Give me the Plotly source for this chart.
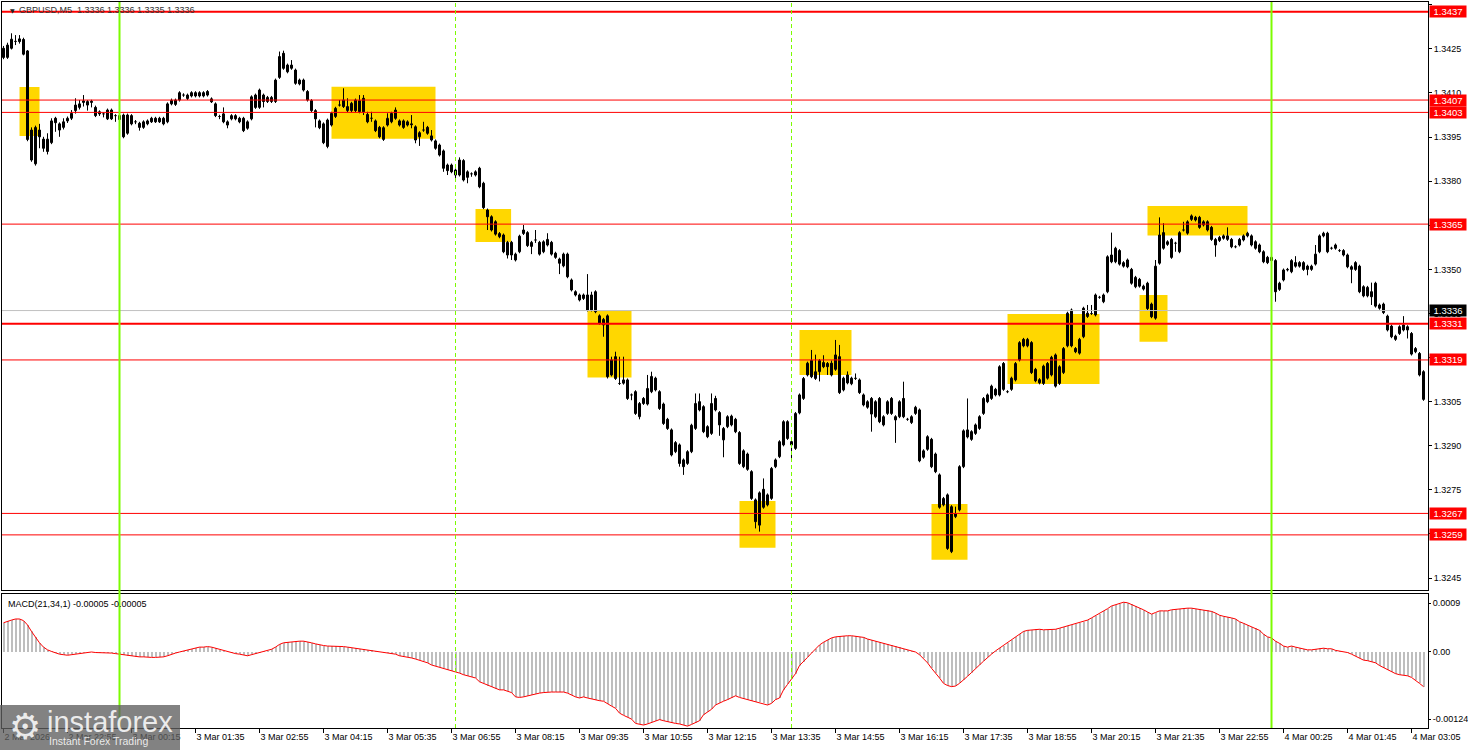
import plotly.graph_objects as go

# ---------------- data ----------------
time_labels = ["2 Mar 2026", "2 Mar 22:55", "3 Mar 00:15", "3 Mar 01:35", "3 Mar 02:55",
               "3 Mar 04:15", "3 Mar 05:35", "3 Mar 06:55", "3 Mar 08:15", "3 Mar 09:35",
               "3 Mar 10:55", "3 Mar 12:15", "3 Mar 13:35", "3 Mar 14:55", "3 Mar 16:15",
               "3 Mar 17:35", "3 Mar 18:55", "3 Mar 20:15", "3 Mar 21:35", "3 Mar 22:55",
               "4 Mar 00:25", "4 Mar 01:45", "4 Mar 03:05"]
time_label_bars = [0, 16, 32, 48, 64, 80, 96, 112, 128, 144, 160, 176, 192, 208, 224,
                   240, 256, 272, 288, 304, 320, 336, 352]

opens = [
1.34252,1.34221,1.34252,1.34275,1.34284,1.34282,1.34243,1.33974,1.33859,1.33974,
1.33943,1.33901,1.33931,1.34014,1.33995,1.33983,1.34005,1.34014,1.34040,1.34051,
1.34073,1.34059,1.34072,1.34051,1.34036,1.34029,1.34012,1.34042,1.34023,1.34023,
1.34025,1.33963,1.34023,1.34002,1.33997,1.33983,1.33995,1.34014,1.34014,1.34014,
1.34014,1.34002,1.34063,1.34061,1.34076,1.34093,1.34081,1.34101,1.34101,1.34101,
1.34101,1.34105,1.34080,1.34063,1.34020,1.34029,1.33991,1.34012,1.34012,1.34014,
1.34014,1.33980,1.34012,1.34093,1.34051,1.34093,1.34071,1.34071,1.34071,1.34153,
1.34235,1.34172,1.34184,1.34178,1.34144,1.34144,1.34105,1.34074,1.34040,1.34005,
1.33995,1.33918,1.33991,1.34020,1.34059,1.34076,1.34040,1.34040,1.34076,1.34036,
1.34082,1.34027,1.34014,1.34005,1.33983,1.33942,1.33991,1.34002,1.34042,1.34005,
1.34005,1.33991,1.33995,1.33985,1.33951,1.33974,1.33983,1.33954,1.33937,1.33923,
1.33903,1.33855,1.33855,1.33821,1.33821,1.33870,1.33813,1.33825,1.33821,1.33844,
1.33793,1.33702,1.33679,1.33662,1.33611,1.33617,1.33549,1.33592,1.33532,1.33560,
1.33622,1.33625,1.33578,1.33600,1.33592,1.33560,1.33583,1.33592,1.33555,1.33535,
1.33512,1.33552,1.33464,1.33424,1.33413,1.33401,1.33413,1.33362,1.33424,1.33342,
1.33311,1.33342,1.33141,1.33203,1.33112,1.33124,1.33124,1.33073,1.33084,1.32999,
1.33061,1.33042,1.33084,1.33130,1.33084,1.33042,1.32990,1.32954,1.32880,1.32903,
1.32852,1.32840,1.32880,1.32959,1.33050,1.33033,1.32965,1.32942,1.33061,1.33013,
1.32920,1.32965,1.32971,1.32990,1.32945,1.32829,1.32872,1.32812,1.32716,1.32630,
1.32752,1.32699,1.32721,1.32829,1.32863,1.32903,1.32982,1.32914,1.32891,1.33012,
1.33061,1.33141,1.33190,1.33129,1.33152,1.33183,1.33180,1.33181,1.33160,1.33203,
1.33090,1.33141,1.33111,1.33129,1.33124,1.33073,1.33031,1.33061,1.32999,1.33061,
1.32971,1.33010,1.33061,1.32999,1.32999,1.33061,1.32990,1.32979,1.33010,1.33022,
1.32861,1.32888,1.32922,1.32872,1.32801,1.32699,1.32733,1.32540,1.32659,1.32682,
1.32829,1.32930,1.32948,1.32942,1.32959,1.33010,1.33073,1.33061,1.33092,1.33073,
1.33180,1.33084,1.33092,1.33124,1.33192,1.33262,1.33240,1.33251,1.33160,1.33114,
1.33112,1.33180,1.33141,1.33209,1.33112,1.33149,1.33240,1.33362,1.33231,1.33215,
1.33271,1.33351,1.33350,1.33345,1.33405,1.33390,1.33424,1.33549,1.33526,1.33564,
1.33511,1.33532,1.33500,1.33441,1.33466,1.33433,1.33453,1.33382,1.33334,1.33521,
1.33625,1.33585,1.33602,1.33589,1.33560,1.33634,1.33623,1.33670,1.33677,1.33677,
1.33651,1.33662,1.33643,1.33583,1.33598,1.33614,1.33602,1.33602,1.33577,1.33583,
1.33614,1.33614,1.33614,1.33594,1.33583,1.33560,1.33541,1.33530,1.33530,1.33432,
1.33464,1.33498,1.33492,1.33523,1.33523,1.33523,1.33511,1.33500,1.33518,1.33560,
1.33614,1.33623,1.33572,1.33583,1.33564,1.33564,1.33549,1.33500,1.33523,1.33511,
1.33441,1.33410,1.33424,1.33453,1.33379,1.33382,1.33341,1.33307,1.33262,1.33282,
1.33311,1.33294,1.33282,1.33220,1.33214,1.33152]

closes = [
1.34221,1.34263,1.34283,1.34276,1.34275,1.34232,1.33942,1.33872,1.33983,1.33951,
1.33912,1.33943,1.34005,1.33999,1.33974,1.34002,1.34014,1.34031,1.34059,1.34063,
1.34068,1.34071,1.34068,1.34023,1.34029,1.34029,1.34042,1.34012,1.34023,1.34010,
1.33951,1.34025,1.33995,1.34002,1.33983,1.34002,1.34005,1.34002,1.34002,1.34002,
1.33995,1.34063,1.34075,1.34076,1.34101,1.34093,1.34093,1.34090,1.34090,1.34090,
1.34090,1.34093,1.34070,1.34023,1.34020,1.34002,1.34002,1.34023,1.34023,1.34002,
1.33972,1.34002,1.34087,1.34051,1.34110,1.34071,1.34085,1.34085,1.34144,1.34224,
1.34184,1.34195,1.34195,1.34133,1.34131,1.34110,1.34076,1.34040,1.34012,1.33982,
1.33931,1.34008,1.34031,1.34048,1.34059,1.34054,1.34054,1.34065,1.34040,1.34074,
1.34036,1.34002,1.34014,1.33972,1.33951,1.33982,1.34014,1.34031,1.34014,1.33991,
1.33983,1.34002,1.33992,1.33940,1.33965,1.33974,1.33963,1.33940,1.33912,1.33889,
1.33844,1.33836,1.33832,1.33838,1.33872,1.33804,1.33832,1.33825,1.33832,1.33781,
1.33710,1.33679,1.33634,1.33620,1.33622,1.33560,1.33592,1.33549,1.33552,1.33613,
1.33634,1.33581,1.33592,1.33600,1.33552,1.33594,1.33602,1.33552,1.33541,1.33521,
1.33552,1.33475,1.33430,1.33413,1.33396,1.33413,1.33362,1.33413,1.33356,1.33317,
1.33330,1.33135,1.33192,1.33129,1.33112,1.33113,1.33061,1.33073,1.33010,1.33044,
1.33044,1.33095,1.33136,1.33090,1.33027,1.32976,1.32959,1.32869,1.32911,1.32840,
1.32829,1.32880,1.32970,1.33044,1.33022,1.32948,1.32931,1.33044,1.33022,1.32971,
1.32959,1.32999,1.33001,1.32948,1.32840,1.32883,1.32820,1.32721,1.32642,1.32740,
1.32691,1.32733,1.32823,1.32852,1.32914,1.32982,1.32925,1.32903,1.33010,1.33073,
1.33129,1.33181,1.33135,1.33152,1.33190,1.33169,1.33169,1.33141,1.33209,1.33081,
1.33130,1.33114,1.33130,1.33130,1.33081,1.33039,1.33050,1.33008,1.33050,1.32982,
1.32999,1.33050,1.33010,1.32988,1.33050,1.32999,1.32990,1.32999,1.33031,1.32849,
1.32883,1.32931,1.32829,1.32812,1.32691,1.32721,1.32551,1.32693,1.32669,1.32829,
1.32951,1.32954,1.32922,1.32971,1.32999,1.33061,1.33050,1.33103,1.33073,1.33169,
1.33092,1.33084,1.33130,1.33180,1.33251,1.33240,1.33262,1.33149,1.33121,1.33125,
1.33171,1.33130,1.33201,1.33103,1.33169,1.33231,1.33351,1.33240,1.33220,1.33262,
1.33368,1.33340,1.33350,1.33413,1.33405,1.33413,1.33543,1.33526,1.33572,1.33518,
1.33523,1.33509,1.33453,1.33473,1.33443,1.33443,1.33367,1.33339,1.33511,1.33617,
1.33572,1.33594,1.33541,1.33589,1.33625,1.33634,1.33662,1.33682,1.33668,1.33643,
1.33662,1.33634,1.33602,1.33602,1.33609,1.33606,1.33614,1.33577,1.33577,1.33602,
1.33600,1.33623,1.33583,1.33572,1.33560,1.33526,1.33523,1.33541,1.33424,1.33453,
1.33498,1.33500,1.33530,1.33511,1.33511,1.33500,1.33500,1.33511,1.33552,1.33614,
1.33623,1.33560,1.33572,1.33572,1.33564,1.33549,1.33509,1.33509,1.33500,1.33424,
1.33410,1.33439,1.33407,1.33375,1.33368,1.33353,1.33294,1.33271,1.33273,1.33305,
1.33294,1.33305,1.33212,1.33231,1.33141,1.33058]

highs = [
1.34260,1.34271,1.34303,1.34297,1.34297,1.34288,1.34246,1.33983,1.33989,1.33995,
1.33951,1.33963,1.34014,1.34019,1.34000,1.34014,1.34020,1.34042,1.34082,1.34076,
1.34093,1.34076,1.34077,1.34057,1.34041,1.34034,1.34047,1.34047,1.34028,1.34029,
1.34030,1.34030,1.34028,1.34008,1.34002,1.34007,1.34010,1.34019,1.34019,1.34019,
1.34019,1.34068,1.34081,1.34081,1.34106,1.34099,1.34098,1.34106,1.34106,1.34106,
1.34106,1.34110,1.34085,1.34068,1.34026,1.34051,1.34007,1.34028,1.34028,1.34019,
1.34019,1.34007,1.34092,1.34098,1.34115,1.34098,1.34090,1.34090,1.34149,1.34241,
1.34244,1.34200,1.34212,1.34183,1.34149,1.34149,1.34110,1.34079,1.34045,1.34010,
1.34000,1.34013,1.34036,1.34053,1.34076,1.34116,1.34082,1.34070,1.34081,1.34093,
1.34093,1.34036,1.34036,1.34010,1.33988,1.33987,1.34031,1.34036,1.34051,1.34010,
1.34010,1.34007,1.34025,1.33990,1.33970,1.34002,1.33988,1.33974,1.33942,1.33928,
1.33908,1.33860,1.33860,1.33843,1.33881,1.33875,1.33837,1.33830,1.33837,1.33849,
1.33798,1.33707,1.33684,1.33667,1.33627,1.33622,1.33597,1.33597,1.33557,1.33618,
1.33651,1.33630,1.33597,1.33634,1.33597,1.33599,1.33623,1.33597,1.33560,1.33540,
1.33557,1.33557,1.33469,1.33429,1.33418,1.33418,1.33484,1.33424,1.33429,1.33347,
1.33335,1.33347,1.33203,1.33220,1.33203,1.33203,1.33129,1.33078,1.33089,1.33049,
1.33066,1.33141,1.33152,1.33135,1.33089,1.33047,1.32995,1.32959,1.32916,1.32908,
1.32857,1.32885,1.32975,1.33078,1.33078,1.33038,1.32970,1.33078,1.33070,1.33018,
1.32964,1.33004,1.33006,1.32995,1.32950,1.32888,1.32877,1.32817,1.32721,1.32745,
1.32789,1.32738,1.32828,1.32857,1.32919,1.32987,1.32987,1.32919,1.33015,1.33078,
1.33134,1.33186,1.33226,1.33210,1.33195,1.33208,1.33185,1.33190,1.33260,1.33243,
1.33135,1.33153,1.33135,1.33146,1.33129,1.33078,1.33055,1.33066,1.33055,1.33066,
1.33004,1.33055,1.33066,1.33004,1.33055,1.33118,1.32995,1.33004,1.33036,1.33027,
1.32888,1.32936,1.32927,1.32877,1.32806,1.32726,1.32738,1.32698,1.32693,1.32834,
1.32956,1.33061,1.32953,1.32976,1.33004,1.33066,1.33078,1.33108,1.33097,1.33174,
1.33185,1.33089,1.33135,1.33185,1.33256,1.33267,1.33267,1.33256,1.33165,1.33130,
1.33176,1.33185,1.33206,1.33214,1.33174,1.33236,1.33356,1.33367,1.33236,1.33267,
1.33373,1.33379,1.33379,1.33418,1.33410,1.33418,1.33548,1.33625,1.33577,1.33569,
1.33528,1.33537,1.33505,1.33478,1.33471,1.33448,1.33458,1.33387,1.33532,1.33677,
1.33657,1.33599,1.33607,1.33594,1.33630,1.33662,1.33667,1.33687,1.33682,1.33682,
1.33667,1.33667,1.33648,1.33607,1.33614,1.33619,1.33643,1.33607,1.33582,1.33607,
1.33619,1.33628,1.33619,1.33599,1.33588,1.33565,1.33546,1.33546,1.33535,1.33458,
1.33503,1.33505,1.33535,1.33545,1.33528,1.33528,1.33516,1.33516,1.33583,1.33619,
1.33628,1.33628,1.33577,1.33588,1.33569,1.33569,1.33554,1.33514,1.33528,1.33516,
1.33446,1.33444,1.33455,1.33458,1.33384,1.33387,1.33346,1.33312,1.33278,1.33310,
1.33341,1.33310,1.33287,1.33236,1.33219,1.33157]

lows = [
1.34215,1.34216,1.34248,1.34263,1.34268,1.34228,1.33936,1.33866,1.33853,1.33912,
1.33900,1.33891,1.33926,1.33968,1.33951,1.33976,1.33998,1.34008,1.34030,1.34044,
1.34054,1.34040,1.34051,1.34018,1.34022,1.34017,1.34008,1.34008,1.34002,1.34003,
1.33946,1.33958,1.33990,1.33994,1.33972,1.33978,1.33990,1.33998,1.33998,1.33998,
1.33990,1.33997,1.34058,1.34056,1.34071,1.34087,1.34076,1.34085,1.34085,1.34085,
1.34085,1.34088,1.34066,1.34018,1.34011,1.33997,1.33980,1.34007,1.34007,1.33997,
1.33967,1.33975,1.34007,1.34046,1.34046,1.34051,1.34066,1.34066,1.34066,1.34148,
1.34179,1.34167,1.34179,1.34128,1.34126,1.34105,1.34071,1.34035,1.33983,1.33977,
1.33926,1.33912,1.33986,1.34015,1.34054,1.34049,1.34035,1.34035,1.34035,1.34031,
1.34025,1.33997,1.34002,1.33967,1.33946,1.33937,1.33986,1.33997,1.34009,1.33986,
1.33978,1.33986,1.33980,1.33929,1.33920,1.33968,1.33958,1.33935,1.33907,1.33884,
1.33832,1.33821,1.33827,1.33810,1.33816,1.33799,1.33793,1.33815,1.33816,1.33776,
1.33705,1.33634,1.33629,1.33615,1.33606,1.33555,1.33537,1.33532,1.33527,1.33555,
1.33617,1.33576,1.33552,1.33590,1.33547,1.33555,1.33578,1.33547,1.33536,1.33484,
1.33507,1.33470,1.33425,1.33408,1.33391,1.33396,1.33357,1.33357,1.33351,1.33312,
1.33271,1.33129,1.33136,1.33124,1.33107,1.33108,1.33056,1.33055,1.33005,1.32990,
1.33039,1.33037,1.33079,1.33085,1.33022,1.32971,1.32954,1.32864,1.32875,1.32829,
1.32801,1.32835,1.32875,1.32954,1.33017,1.32943,1.32926,1.32937,1.33017,1.32934,
1.32861,1.32960,1.32966,1.32943,1.32835,1.32824,1.32815,1.32716,1.32619,1.32608,
1.32686,1.32694,1.32716,1.32824,1.32858,1.32898,1.32920,1.32852,1.32886,1.33007,
1.33056,1.33136,1.33130,1.33124,1.33119,1.33164,1.33141,1.33136,1.33155,1.33076,
1.33085,1.33109,1.33106,1.33124,1.33076,1.33034,1.33026,1.32948,1.32994,1.32977,
1.32966,1.33005,1.33005,1.32910,1.32994,1.32994,1.32985,1.32974,1.33005,1.32844,
1.32856,1.32883,1.32824,1.32807,1.32686,1.32694,1.32546,1.32535,1.32654,1.32677,
1.32824,1.32925,1.32917,1.32937,1.32954,1.33005,1.33045,1.33056,1.33068,1.33068,
1.33087,1.33079,1.33087,1.33119,1.33187,1.33235,1.33235,1.33144,1.33116,1.33109,
1.33107,1.33125,1.33136,1.33098,1.33107,1.33144,1.33235,1.33235,1.33215,1.33210,
1.33266,1.33335,1.33345,1.33340,1.33400,1.33385,1.33419,1.33521,1.33521,1.33513,
1.33506,1.33504,1.33448,1.33436,1.33438,1.33428,1.33362,1.33334,1.33329,1.33516,
1.33567,1.33580,1.33536,1.33560,1.33555,1.33629,1.33618,1.33665,1.33663,1.33638,
1.33646,1.33629,1.33597,1.33543,1.33593,1.33601,1.33597,1.33572,1.33572,1.33578,
1.33595,1.33609,1.33578,1.33567,1.33555,1.33521,1.33518,1.33525,1.33390,1.33427,
1.33459,1.33493,1.33487,1.33506,1.33506,1.33495,1.33480,1.33495,1.33513,1.33555,
1.33609,1.33555,1.33567,1.33567,1.33559,1.33544,1.33504,1.33453,1.33495,1.33419,
1.33405,1.33405,1.33379,1.33370,1.33363,1.33348,1.33289,1.33266,1.33257,1.33277,
1.33289,1.33265,1.33207,1.33215,1.33136,1.33053]

macd = [
0.00054,0.00057,0.00059,0.00061,0.00061,0.00058,0.00050,0.00038,0.00027,0.00017,
0.00009,0.00004,0.00001,-0.00002,-0.00004,-0.00005,-0.00006,-0.00005,-0.00004,-0.00002,
-0.00001,0.0,0.0,-0.00001,-0.00001,-0.00002,-0.00002,-0.00002,-0.00003,-0.00004,
-0.00006,-0.00007,-0.00008,-0.00009,-0.00009,-0.00009,-0.00010,-0.00010,-0.00010,-0.00010,
-0.00009,-0.00007,-0.00004,-0.00002,0.0,0.00002,0.00004,0.00006,0.00008,0.00009,
0.00009,0.00010,0.00009,0.00007,0.00004,0.00002,0.0,-0.00002,-0.00003,-0.00004,
-0.00006,-0.00007,-0.00005,-0.00003,-0.00001,0.00001,0.00002,0.00005,0.00009,0.00014,
0.00017,0.00018,0.00019,0.00020,0.00020,0.00020,0.00019,0.00017,0.00015,0.00013,
0.00012,0.00011,0.00011,0.00011,0.00010,0.00010,0.00009,0.00008,0.00007,0.00006,
0.00005,0.00004,0.00003,0.00001,0.0,-0.00001,-0.00002,-0.00003,-0.00004,-0.00007,
-0.00008,-0.00009,-0.00011,-0.00013,-0.00015,-0.00017,-0.00020,-0.00024,-0.00026,-0.00028,
-0.00030,-0.00033,-0.00035,-0.00037,-0.00039,-0.00042,-0.00044,-0.00046,-0.00048,-0.00055,
-0.00058,-0.00062,-0.00065,-0.00068,-0.00070,-0.00070,-0.00072,-0.00075,-0.00083,-0.00084,
-0.00083,-0.00081,-0.00080,-0.00078,-0.00076,-0.00075,-0.00074,-0.00074,-0.00074,-0.00074,
-0.00074,-0.00076,-0.00080,-0.00083,-0.00085,-0.00083,-0.00085,-0.00087,-0.00089,-0.00090,
-0.00091,-0.00096,-0.00100,-0.00104,-0.00113,-0.00117,-0.00121,-0.00124,-0.00132,-0.00133,
-0.00135,-0.00133,-0.00130,-0.00127,-0.00125,-0.00127,-0.00129,-0.00131,-0.00132,-0.00133,
-0.00135,-0.00137,-0.00134,-0.00131,-0.00127,-0.00116,-0.00111,-0.00106,-0.00098,-0.00094,
-0.00091,-0.00088,-0.00085,-0.00081,-0.00084,-0.00086,-0.00088,-0.00090,-0.00092,-0.00093,
-0.00095,-0.00098,-0.00095,-0.00088,-0.00085,-0.00070,-0.00060,-0.00050,-0.00040,-0.00025,
-0.00018,-0.00010,-0.00002,0.00005,0.00013,0.00018,0.00022,0.00026,0.00028,0.00029,
0.00030,0.00030,0.00030,0.00029,0.00028,0.00027,0.00024,0.00022,0.00020,0.00018,
0.00016,0.00014,0.00013,0.00011,0.00009,0.00006,0.00004,0.00002,0.0,-0.00005,
-0.00012,-0.00020,-0.00030,-0.00038,-0.00048,-0.00058,-0.00062,-0.00064,-0.00063,-0.00058,
-0.00052,-0.00045,-0.00038,-0.00030,-0.00024,-0.00017,-0.00010,-0.00004,0.00002,0.00007,
0.00012,0.00017,0.00022,0.00027,0.00033,0.00038,0.00040,0.00041,0.00042,0.00042,
0.00041,0.00041,0.00041,0.00042,0.00044,0.00046,0.00048,0.00050,0.00052,0.00054,
0.00056,0.00059,0.00063,0.00067,0.00071,0.00076,0.00080,0.00085,0.00087,0.00089,
0.00092,0.00091,0.00088,0.00085,0.00082,0.00078,0.00074,0.00070,0.00073,0.00076,
0.00076,0.00076,0.00078,0.00079,0.00080,0.00081,0.00081,0.00081,0.00080,0.00079,
0.00078,0.00077,0.00075,0.00072,0.00068,0.00066,0.00065,0.00063,0.00061,0.00056,
0.00053,0.00050,0.00047,0.00044,0.00040,0.00033,0.00028,0.00026,0.00020,0.00016,
0.00011,0.00009,0.00011,0.00009,0.00007,0.00005,0.00004,0.00004,0.00005,0.00007,
0.00007,0.00006,0.00006,0.00003,0.00002,0.0,-0.00001,-0.00004,-0.00008,-0.00012,
-0.00015,-0.00016,-0.00018,-0.00020,-0.00025,-0.00029,-0.00033,-0.00037,-0.00040,-0.00042,
-0.00043,-0.00044,-0.00047,-0.00052,-0.00058,-0.00064]

assert len(opens) == len(closes) == len(highs) == len(lows) == len(macd), (
    len(opens), len(closes), len(highs), len(lows), len(macd))

# horizontal levels (value as drawn, tag text)
level_prices = [1.34376, 1.34076, 1.34034, 1.33654, 1.33315, 1.33192, 1.32670, 1.32597]
level_labels = ["1.3437", "1.3407", "1.3403", "1.3365", "1.3331", "1.3319", "1.3267", "1.3259"]
level_thick = [True, False, False, False, True, False, False, False]
bid_price = 1.33360
bid_label = "1.3336"

# yellow zones: bar index span and price span
zone_start = [4, 82, 118, 146, 184, 199, 232, 251, 284, 286]
zone_end = [9, 108, 126.9, 157, 193, 212, 241, 274, 291, 311]
zone_top = [1.34120, 1.34121, 1.33705, 1.33359, 1.32712, 1.33294, 1.32702, 1.33348, 1.33413, 1.33716]
zone_bottom = [1.33954, 1.33944, 1.33593, 1.33132, 1.32553, 1.33141, 1.32512, 1.33110, 1.33254, 1.33615]

day_separator_bars = [29, 317]
session_marker_bars = [113, 197]

price_ticks = [1.3245, 1.3260, 1.3275, 1.3290, 1.3305, 1.3320, 1.3335, 1.3350,
               1.3365, 1.3380, 1.3395, 1.3410, 1.3425, 1.3440]
macd_ticks = [0.0009, 0.0, -0.00124]
macd_tick_text = ["0.0009", "0.00", "-0.00124"]

header_text = "GBPUSD,M5  1.3336 1.3336 1.3335 1.3336"
macd_title = "MACD(21,34,1) -0.00005 -0.00005"

# ---------------- geometry ----------------
W, H = 1468, 750
L_PX, R_PX, T_PX, B_PX = 2, 1428, 2, 728


def px_x(px):
    return (px - L_PX) / (R_PX - L_PX)


def px_y(py):
    return (B_PX - py) / (B_PX - T_PX)


MAIN_BOTTOM_PX = 590
MACD_TOP_PX = 594
PRICE_RANGE = [1.324095, 1.344095]
MACD_RANGE = [-0.001405, 0.001072]
n = len(closes)
xs = list(range(n))
X_RANGE = [-0.375, n + 0.125]

FONT = "Liberation Sans, Arial, sans-serif"

fig = go.Figure()

# candles: wicks (high-low) then bodies (open-close) on top
wick_x, wick_y = [], []
for i, (hi, lo) in enumerate(zip(highs, lows)):
    wick_x += [i, i, None]
    wick_y += [lo, hi, None]
fig.add_trace(go.Scatter(
    x=wick_x, y=wick_y, mode="lines", line=dict(color="black", width=1),
    xaxis="x", yaxis="y", hoverinfo="skip", showlegend=False))

body_base = [min(o, c) for o, c in zip(opens, closes)]
body_size = [abs(c - o) for o, c in zip(opens, closes)]
body_fill = ["white" if c >= o else "black" for o, c in zip(opens, closes)]
fig.add_trace(go.Bar(
    x=xs, y=body_size, base=body_base, width=0.5,
    marker=dict(color=body_fill, line=dict(color="black", width=1)),
    xaxis="x", yaxis="y", hoverinfo="skip", showlegend=False))

fig.add_trace(go.Bar(
    x=xs, y=macd, width=0.5, marker=dict(color="#BEBEBE", line=dict(width=0)),
    xaxis="x2", yaxis="y2", hoverinfo="skip", showlegend=False))
fig.add_trace(go.Scatter(
    x=xs, y=macd, mode="lines", line=dict(color="red", width=1),
    xaxis="x2", yaxis="y2", hoverinfo="skip", showlegend=False))

shapes = []
for x0, x1, y1, y0 in zip(zone_start, zone_end, zone_top, zone_bottom):
    shapes.append(dict(type="rect", xref="x", yref="y", x0=x0, x1=x1, y0=y0, y1=y1,
                       fillcolor="#FFD700", line=dict(width=0), layer="below"))
shapes.append(dict(type="line", xref="paper", yref="y", x0=0, x1=1, y0=bid_price, y1=bid_price,
                   line=dict(color="#C0C0C0", width=1), layer="above"))
for p, thick in zip(level_prices, level_thick):
    shapes.append(dict(type="line", xref="paper", yref="y", x0=0, x1=1, y0=p, y1=p,
                       line=dict(color="red", width=2 if thick else 1), layer="above"))
for b in session_marker_bars:
    shapes.append(dict(type="line", xref="x", yref="paper", x0=b, x1=b, y0=0, y1=1,
                       line=dict(color="#7CFC00", width=1, dash="4px,3px"), layer="above"))
for b in day_separator_bars:
    shapes.append(dict(type="line", xref="x", yref="paper", x0=b, x1=b, y0=0, y1=1,
                       line=dict(color="#7CFC00", width=2), layer="above"))
# watermark box
shapes.append(dict(type="rect", xref="paper", yref="paper", x0=px_x(0), x1=px_x(180),
                   y0=px_y(750), y1=px_y(705), fillcolor="rgba(95,95,95,0.78)",
                   line=dict(width=0), layer="above"))

annotations = []
tag_x = px_x(1429)
for p, lab in zip(level_prices, level_labels):
    annotations.append(dict(xref="paper", yref="y", x=tag_x, y=p, xanchor="left", yanchor="middle",
                            text=lab, showarrow=False, bgcolor="#FF0000", width=34, height=9,
                            borderpad=1, align="center",
                            font=dict(family=FONT, size=9.5, color="white")))
annotations.append(dict(xref="paper", yref="y", x=tag_x, y=bid_price, xanchor="left", yanchor="middle",
                        text=bid_label, showarrow=False, bgcolor="#000000", width=34, height=9,
                        borderpad=1, align="center",
                        font=dict(family=FONT, size=9.5, color="white")))
annotations.append(dict(xref="paper", yref="paper", x=px_x(8), y=px_y(10), xanchor="left",
                        yanchor="middle", text="▼", showarrow=False,
                        font=dict(family="DejaVu Sans", size=6, color="#222222")))
annotations.append(dict(xref="paper", yref="paper", x=px_x(17), y=px_y(10), xanchor="left",
                        yanchor="middle", text=header_text, showarrow=False,
                        font=dict(family=FONT, size=9, color="#333333")))
annotations.append(dict(xref="paper", yref="paper", x=px_x(6), y=px_y(604), xanchor="left",
                        yanchor="middle", text=macd_title, showarrow=False,
                        font=dict(family=FONT, size=9, color="black")))
# watermark text
annotations.append(dict(xref="paper", yref="paper", x=px_x(25), y=px_y(726), xanchor="center",
                        yanchor="middle", text="⚙", showarrow=False,
                        font=dict(family="DejaVu Sans", size=36, color="rgba(255,255,255,0.85)")))
annotations.append(dict(xref="paper", yref="paper", x=px_x(45), y=px_y(722), xanchor="left",
                        yanchor="middle", text="instaforex", showarrow=False,
                        font=dict(family=FONT, size=29, color="rgba(255,255,255,0.85)")))
annotations.append(dict(xref="paper", yref="paper", x=px_x(47), y=px_y(741), xanchor="left",
                        yanchor="middle", text="Instant Forex Trading", showarrow=False,
                        font=dict(family=FONT, size=10.5, color="rgba(255,255,255,0.85)")))

axis_common = dict(showgrid=False, zeroline=False, showline=True, mirror=True,
                   linecolor="black", linewidth=1, fixedrange=True, automargin=False)

fig.update_layout(
    width=W, height=H,
    margin=dict(l=L_PX, r=W - R_PX, t=T_PX, b=H - B_PX, autoexpand=False),
    paper_bgcolor="white", plot_bgcolor="white", showlegend=False,
    font=dict(family=FONT, size=9, color="black"),
    bargap=0, barmode="overlay",
    xaxis=dict(domain=[0, 1], range=X_RANGE, anchor="y", showticklabels=False, ticks="",
               **axis_common),
    yaxis=dict(domain=[px_y(MAIN_BOTTOM_PX), 1], range=PRICE_RANGE, anchor="x", side="right",
               tickvals=price_ticks, ticktext=[f"{v:.4f}" for v in price_ticks],
               ticks="outside", ticklen=3, tickcolor="black",
               tickfont=dict(family=FONT, size=9, color="black"), **axis_common),
    xaxis2=dict(domain=[0, 1], range=X_RANGE, anchor="y2", tickvals=time_label_bars,
                ticktext=time_labels, ticks="outside", ticklen=4, tickcolor="black",
                ticklabelposition="outside right", ticklabeloverflow="allow",
                tickfont=dict(family=FONT, size=9, color="black"), **axis_common),
    yaxis2=dict(domain=[0, px_y(MACD_TOP_PX)], range=MACD_RANGE, anchor="x2", side="right",
                tickvals=macd_ticks, ticktext=macd_tick_text, ticks="outside", ticklen=2,
                tickcolor="black", tickfont=dict(family=FONT, size=9, color="black"),
                **axis_common),
    shapes=shapes,
    annotations=annotations,
)

fig.write_html("out.html",
               config={"displayModeBar": False, "staticPlot": True},
               post_script="document.body.style.margin='0';document.body.style.padding='0';")
